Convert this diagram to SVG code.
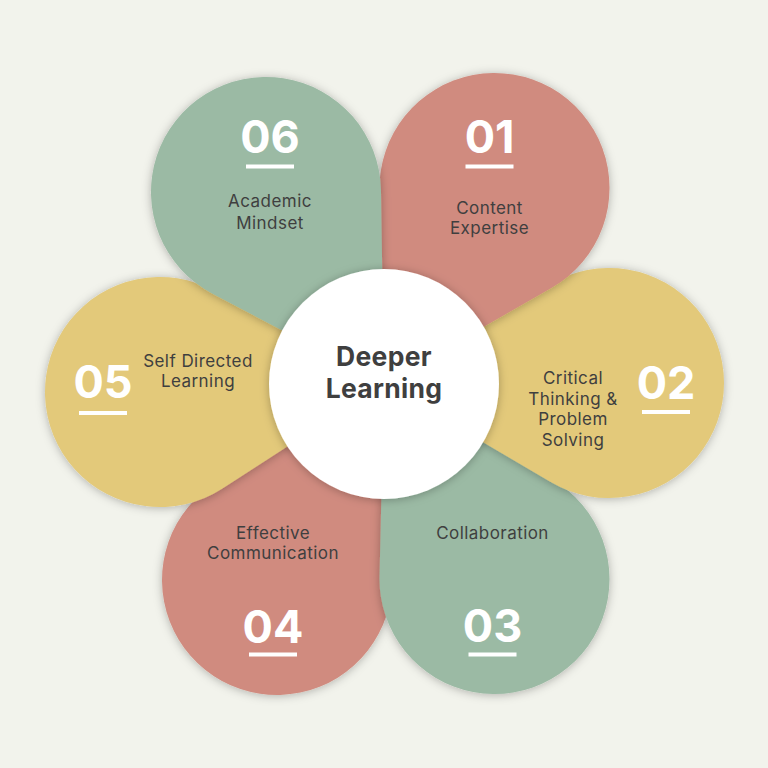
<svg xmlns="http://www.w3.org/2000/svg" width="768" height="768" viewBox="0 0 768 768">
<defs>
<filter id="sh" x="-20%" y="-20%" width="140%" height="140%">
<feDropShadow dx="0" dy="1" stdDeviation="5" flood-color="#000" flood-opacity="0.28"/>
</filter>
</defs>
<style>
.red{fill:#D08B7F}
.yel{fill:#E3C97A}
.grn{fill:#9BBAA4}
.num{font-family:Inter,"Liberation Sans",sans-serif;font-weight:700;font-size:45px;fill:#FFFFFF;text-anchor:middle}
.lbl{font-family:Inter,"Liberation Sans",sans-serif;font-size:17px;letter-spacing:0.45px;fill:#3F3F3F;text-anchor:middle}
.ttl{font-family:Inter,"Liberation Sans",sans-serif;font-weight:700;font-size:26.5px;letter-spacing:0.3px;fill:#3F3F3F;text-anchor:middle}
.bar{fill:#FFFFFF}
.p{filter:url(#sh)}
</style>
<rect width="768" height="768" fill="#F2F3EC"/>
<g id="petal-04">
<path class="red p" d="M384 384 L391.91 575.24 A115 115 0 1 1 218.86 480.77 Z"/>
<text class="lbl" x="273" y="539">Effective</text>
<text class="lbl" x="273" y="559">Communication</text>
<text class="num" x="273" y="642.5">04</text>
<rect class="bar" x="249" y="652.5" width="48" height="4"/>
</g>
<g id="petal-03">
<path class="grn p" d="M384 384 L551.29 479 A115 115 0 1 1 379.54 576.33 Z"/>
<text class="lbl" x="492.5" y="539">Collaboration</text>
<text class="num" x="492.5" y="642">03</text>
<rect class="bar" x="468.5" y="652.5" width="48" height="4"/>
</g>
<g id="petal-02">
<path class="yel p" d="M384 384 L549.78 284.42 A115 115 0 1 1 550.67 482.11 Z"/>
<text class="lbl" x="573" y="384">Critical</text>
<text class="lbl" x="573" y="404.5">Thinking &amp;</text>
<text class="lbl" x="573" y="425">Problem</text>
<text class="lbl" x="573" y="445.5">Solving</text>
<text class="num" x="666" y="399.3">02</text>
<rect class="bar" x="642" y="410" width="48" height="4"/>
</g>
<g id="petal-01">
<path class="red p" d="M384 384 L379.55 190.65 A115 115 0 1 1 551.75 287.76 Z"/>
<text class="num" x="489.5" y="153.3">01</text>
<rect class="bar" x="465.5" y="164.5" width="48" height="4"/>
<text class="lbl" x="489.5" y="214">Content</text>
<text class="lbl" x="489.5" y="234">Expertise</text>
</g>
<g id="petal-05">
<path class="yel p" d="M384 384 L222.51 488.55 A115 115 0 1 1 215.43 291.27 Z"/>
<text class="num" x="103" y="398.3">05</text>
<rect class="bar" x="79" y="411" width="48" height="4"/>
<text class="lbl" x="198" y="367.3">Self Directed</text>
<text class="lbl" x="198" y="387.3">Learning</text>
</g>
<g id="petal-06">
<path class="grn p" d="M384 384 L212.46 293.78 A115 115 0 1 1 380.96 190.21 Z"/>
<text class="num" x="270" y="153.3">06</text>
<rect class="bar" x="246" y="164.5" width="48" height="4"/>
<text class="lbl" x="270" y="207.3">Academic</text>
<text class="lbl" x="270" y="229">Mindset</text>
</g>
<g id="center">
<circle class="p" cx="384" cy="384" r="115" fill="#FFFFFF"/>
<text class="ttl" x="384" y="366">Deeper</text>
<text class="ttl" x="384" y="398">Learning</text>
</g>
<g id="connectors"/>
</svg>
